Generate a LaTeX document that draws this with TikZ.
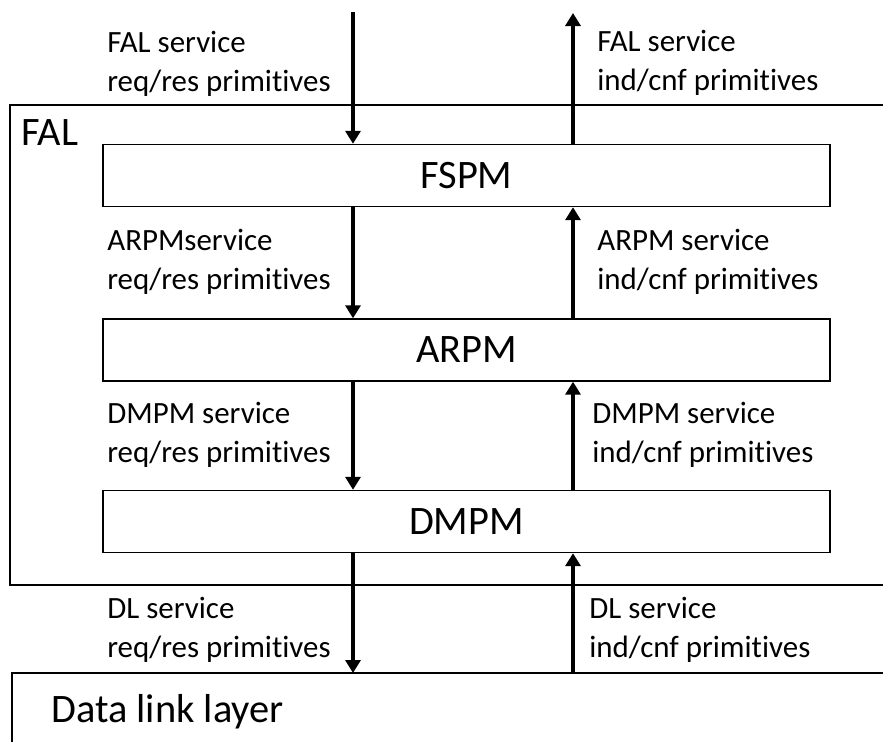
\documentclass[tikz,border=0pt]{standalone}
\usepackage{fontspec}
\setmainfont{Carlito}[Ligatures=NoCommon]
\usetikzlibrary{arrows.meta}

\begin{document}
\begin{tikzpicture}[x=0.02cm,y=-0.02cm,
  layer/.style={draw,line width=0.8pt,minimum width=14.54cm,minimum height=1.24cm,
    font=\fontsize{23}{28}\selectfont},
  big/.style={anchor=west,inner sep=0pt,font=\fontsize{23}{28}\selectfont},
  sig/.style={line width=2.2pt,-{Triangle[width=0.3cm,length=0.26cm]}},
  lbl/.style={anchor=west,align=left,inner sep=0pt,font=\fontsize{17.6}{22.2}\selectfont}]
  \useasboundingbox (0,0) rectangle (883,741);
  \clip (0,0) rectangle (883,741);
  % outer boxes (open to the right / bottom)
  \draw[line width=1.3pt] (900,105) -| (10,585) -- (900,585);
  \draw[line width=1.3pt] (12,900) |- (900,673);
  \coordinate (dltop) at (12,673);
  \node[big] (fal) at (21,133) {FAL};
  \node[big] (dll) at (51,712) {Data link layer};
  % machines
  \node[layer] (fspm) at (466.5,175.5) {FSPM};
  \node[layer] (arpm) at (466.5,350) {ARPM};
  \node[layer] (dmpm) at (466.5,521.5) {DMPM};
  % signal lines
  \coordinate (falin) at (353,12);
  \coordinate (falout) at (573,13);
  \draw[sig] (falin) -- (fspm.north -| falin);
  \draw[sig] (fspm.north -| falout) -- (falout);
  \draw[sig] (fspm.south -| falin) -- (arpm.north -| falin);
  \draw[sig] (arpm.north -| falout) -- (fspm.south -| falout);
  \draw[sig] (arpm.south -| falin) -- (dmpm.north -| falin);
  \draw[sig] (dmpm.north -| falout) -- (arpm.south -| falout);
  \draw[sig] (dmpm.south -| falin) -- (dltop -| falin);
  \draw[sig] (dltop -| falout) -- (dmpm.south -| falout);
  % labels
  \node[lbl] (falreq) at (107,64) {FAL service\\req/res primitives};
  \node[lbl] (falind) at (597,63) {FAL service\\ind/cnf primitives};
  \node[lbl] (arpmreq) at (107,262) {ARPMservice\\req/res primitives};
  \node[lbl] (arpmind) at (597,262) {ARPM service\\ind/cnf primitives};
  \node[lbl] (dmpmreq) at (107,435) {DMPM service\\req/res primitives};
  \node[lbl] (dmpmind) at (592,435) {DMPM service\\ind/cnf primitives};
  \node[lbl] (dlreq) at (107,630) {DL service\\req/res primitives};
  \node[lbl] (dlind) at (589,630) {DL service\\ind/cnf primitives};
\end{tikzpicture}
\end{document}
